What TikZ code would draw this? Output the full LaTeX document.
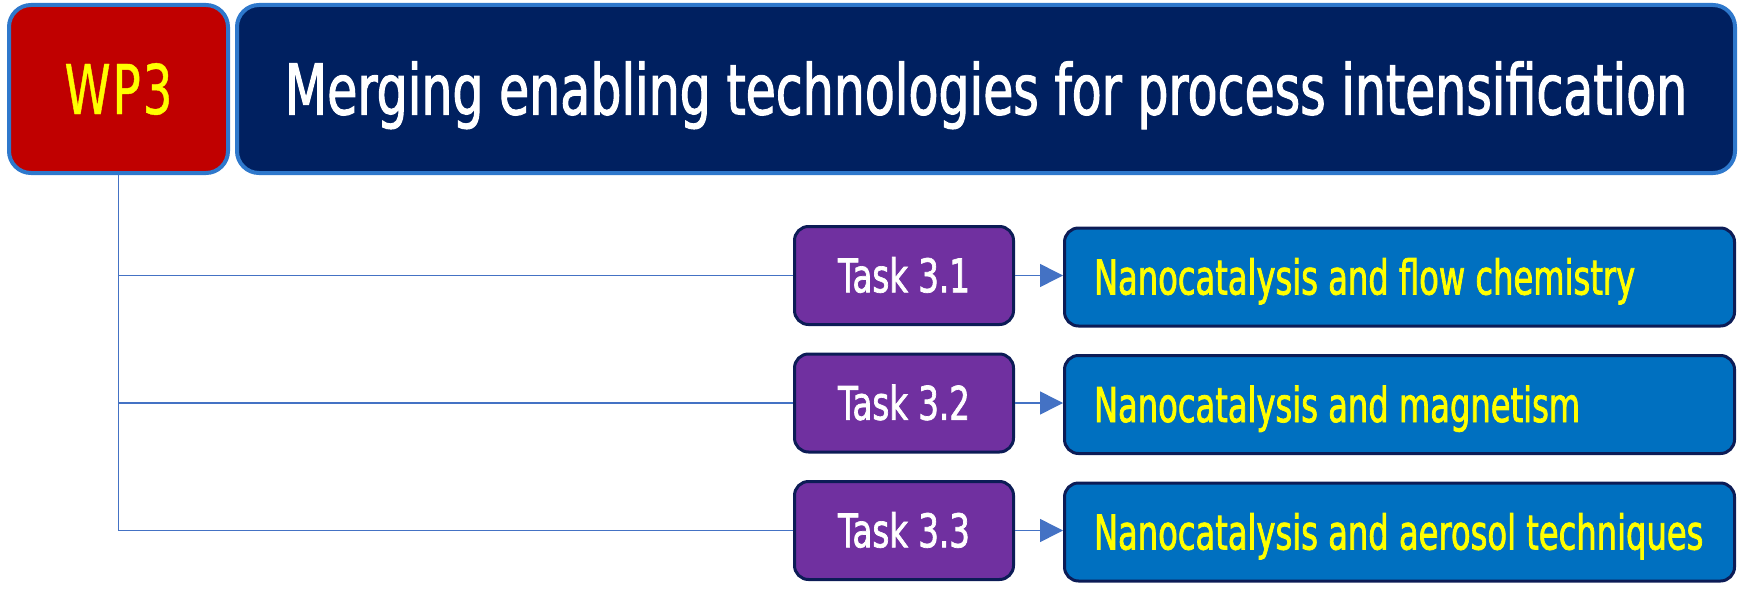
\documentclass[tikz,border=0pt]{standalone}
\usepackage{fontspec}
\newfontfamily\fa[FakeStretch=0.70,FakeBold=1.5]{DejaVu Sans}
\newfontfamily\fw[FakeStretch=0.68,FakeBold=0.6]{DejaVu Sans}
\newfontfamily\fb[FakeStretch=0.67,FakeBold=1.5]{DejaVu Sans}
\usetikzlibrary{arrows.meta}
\definecolor{wpred}{HTML}{C00000}
\definecolor{titlenavy}{HTML}{002060}
\definecolor{edgeblue}{HTML}{2E78CC}
\definecolor{taskpurple}{HTML}{7030A0}
\definecolor{darknavy}{HTML}{0C1C56}
\definecolor{descblue}{HTML}{0070C0}
\definecolor{linkblue}{HTML}{4472C4}
\definecolor{txtyellow}{HTML}{FFFF00}
\begin{document}
\begin{tikzpicture}[x=1pt,y=-1pt,
  basebox/.style={rectangle, inner sep=0pt, text depth=0pt},
  wpbox/.style={basebox, fill=wpred, draw=edgeblue, line width=4pt, rounded corners=22pt, text height=50pt,
    minimum width=219pt, minimum height=168pt, text=txtyellow, font=\fw\fontsize{68.6}{80}\selectfont},
  titlebox/.style={basebox, fill=titlenavy, draw=edgeblue, line width=4pt, rounded corners=22pt, text height=51pt,
    minimum width=1498pt, minimum height=168pt, text=white, font=\fa\fontsize{70}{84}\selectfont},
  taskbox/.style={basebox, fill=taskpurple, draw=darknavy, line width=3pt, rounded corners=14pt, text height=33.5pt,
    minimum width=219pt, minimum height=98pt, text=white, font=\fa\fontsize{46.3}{55}\selectfont},
  descbox/.style={basebox, fill=descblue, draw=darknavy, line width=3pt, rounded corners=14pt, text height=35pt,
    minimum width=670pt, minimum height=98pt, inner xsep=29.5pt, text=txtyellow, font=\fb\fontsize{48}{58}\selectfont},
  link/.style={draw=linkblue, line width=1.5pt},
  arrowlink/.style={link, -{Triangle[length=23pt,width=23pt]}}
]
\useasboundingbox (0,0) rectangle (1742,591);

\node[wpbox] (wp) at (118.5,89) {W\kern2ptP\kern2pt3};
\node[titlebox] (title) at (986,89) {Merging enabling technologies for process intensification};

\node[taskbox] (t1) at (904,275.5) {Task 3.1};
\node[taskbox] (t2) at (904,403) {Task 3.2};
\node[taskbox] (t3) at (904,530.5) {Task 3.3};

\node[descbox] (d1) at (1399.5,277) {\makebox[611pt][l]{Nanocatalysis and flow chemistry}};
\node[descbox] (d2) at (1399.5,404.5) {\makebox[611pt][l]{Nanocatalysis and magnetism}};
\node[descbox] (d3) at (1399.5,532) {\makebox[611pt][l]{Nanocatalysis and aerosol techniques}};

\draw[link] (wp.south) |- (t3.west);
\draw[link] (wp.south |- t1.west) -- (t1.west);
\draw[link] (wp.south |- t2.west) -- (t2.west);

\draw[arrowlink] (t1.east) -- (d1.west |- t1.east);
\draw[arrowlink] (t2.east) -- (d2.west |- t2.east);
\draw[arrowlink] (t3.east) -- (d3.west |- t3.east);
\end{tikzpicture}
\end{document}
